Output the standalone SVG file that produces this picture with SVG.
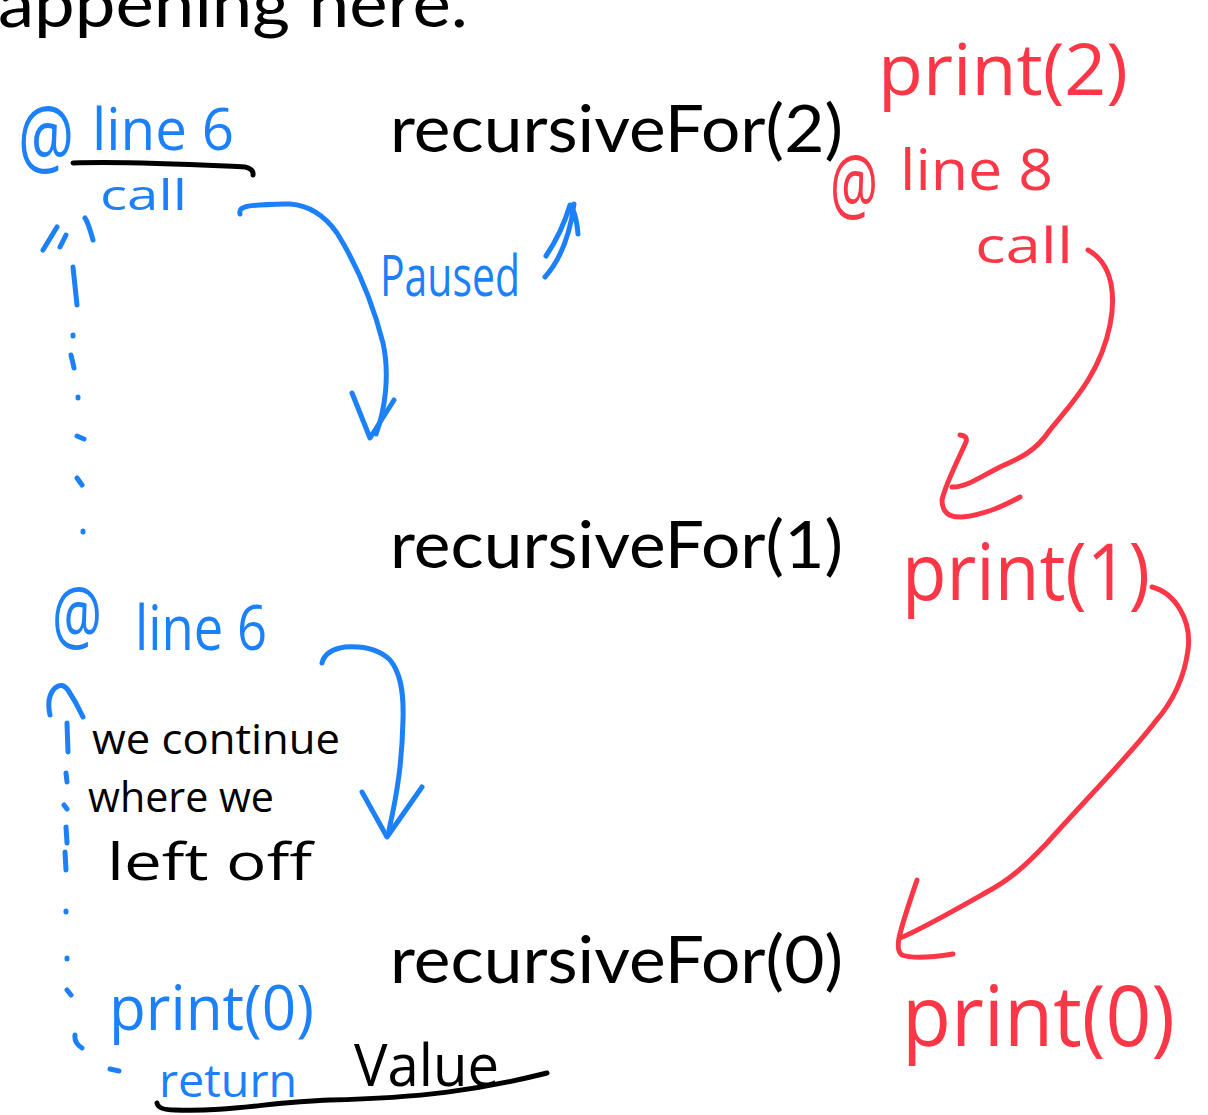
<svg xmlns="http://www.w3.org/2000/svg" width="1208" height="1115" viewBox="0 0 1208 1115">
<style>
.big{font-family:Lato,"Open Sans","Liberation Sans",sans-serif;font-size:66px;fill:#000}
.hand{font-family:"Open Sans","Liberation Sans",sans-serif;font-weight:400}
.blue{fill:#1c80f8}
.red{fill:#fb3747}
.blk{fill:#000}
.sb{fill:none;stroke:#1c80f8;stroke-width:5;stroke-linecap:round;stroke-linejoin:round}
.sr{fill:none;stroke:#fb3747;stroke-width:5;stroke-linecap:round;stroke-linejoin:round}
.sk{fill:none;stroke:#000;stroke-width:5;stroke-linecap:round;stroke-linejoin:round}
</style>
<rect width="1208" height="1115" fill="#fff"/>

<g id="title">
<text class="big" x="-2" y="27" textLength="470" lengthAdjust="spacingAndGlyphs">appening here.</text>
</g>

<g id="node-rf2">
<text class="big" x="390" y="152" textLength="453" lengthAdjust="spacingAndGlyphs">recursiveFor(2)</text>
</g>
<g id="node-rf1">
<text class="big" x="390" y="568" textLength="453" lengthAdjust="spacingAndGlyphs">recursiveFor(1)</text>
</g>
<g id="node-rf0">
<text class="big" x="390" y="983" textLength="453" lengthAdjust="spacingAndGlyphs">recursiveFor(0)</text>
</g>

<g id="note-line6-call">
<text class="hand blue" transform="translate(18,166) scale(1,1.45)" font-size="58" textLength="56" lengthAdjust="spacingAndGlyphs">@</text>
<text class="hand blue" x="92" y="150" font-size="58" textLength="142" lengthAdjust="spacingAndGlyphs">line 6</text>
<path class="sk" d="M73,163 C130,161 200,165 245,167 Q254,169 253,175"/>
<text class="hand blue" x="100" y="210" font-size="42" textLength="87" lengthAdjust="spacingAndGlyphs">call</text>
<path class="sb" d="M43,250 L57,227 M60,247 L66,235 M93,240 Q88,222 85,218"/>
</g>

<g id="note-paused">
<text class="hand blue" x="380" y="296" font-size="56" textLength="140" lengthAdjust="spacingAndGlyphs">Paused</text>
</g>

<g id="note-line8-call">
<text class="hand red" transform="translate(830,213) scale(1,1.5)" font-size="54" textLength="48" lengthAdjust="spacingAndGlyphs">@</text>
<text class="hand red" x="900" y="190" font-size="56" textLength="153" lengthAdjust="spacingAndGlyphs">line 8</text>
<text class="hand red" x="975" y="263" font-size="50" textLength="98" lengthAdjust="spacingAndGlyphs">call</text>
</g>

<g id="note-print2">
<text class="hand red" x="878" y="95" font-size="72" textLength="250" lengthAdjust="spacingAndGlyphs">print(2)</text>
</g>
<g id="note-print1">
<text class="hand red" x="902" y="600" font-size="78" textLength="248" lengthAdjust="spacingAndGlyphs">print(1)</text>
</g>
<g id="note-print0">
<text class="hand red" x="902" y="1046" font-size="84" textLength="273" lengthAdjust="spacingAndGlyphs">print(0)</text>
</g>

<g id="note-line6-b">
<text class="hand blue" transform="translate(52,643) scale(1,1.4)" font-size="56" textLength="50" lengthAdjust="spacingAndGlyphs">@</text>
<text class="hand blue" x="135" y="650" font-size="62" textLength="132" lengthAdjust="spacingAndGlyphs">line 6</text>
</g>

<g id="note-continue">
<text class="hand blk" x="92" y="754" font-size="42" textLength="248" lengthAdjust="spacingAndGlyphs">we continue</text>
<text class="hand blk" x="88" y="812" font-size="42" textLength="186" lengthAdjust="spacingAndGlyphs">where we</text>
<text class="hand blk" x="107" y="880" font-size="52" textLength="205" lengthAdjust="spacingAndGlyphs">left off</text>
</g>

<g id="note-return">
<text class="hand blue" x="109" y="1030" font-size="62" textLength="205" lengthAdjust="spacingAndGlyphs">print(0)</text>
<path class="sb" d="M110,1069 L119,1071"/>
<text class="hand blue" x="159" y="1097" font-size="46" textLength="138" lengthAdjust="spacingAndGlyphs">return</text>
<text class="hand blk" x="354" y="1086" font-size="58" textLength="145" lengthAdjust="spacingAndGlyphs">Value</text>
<path class="sk" d="M157,1103 Q158,1110 175,1110 C230,1112 270,1102 330,1100 C420,1098 480,1090 547,1073"/>
</g>

<g id="connectors">
<!-- blue call arrow -->
<path class="sb" d="M240,214 C238,205 250,205 290,204 Q318,206 337,233 C355,262 372,300 383,343 C390,375 385,410 376,434"/>
<path class="sb" d="M352,393 L370,438 L394,400"/>
<!-- paused up arrow -->
<path class="sb" d="M545,277 C560,260 570,235 574,204 M546,256 Q562,232 570,205 Q576,212 578,234"/>
<!-- blue dotted line top -->
<path class="sb" d="M73,267 L77,305 M73,335 L73,336 M71,355 L74,368 M78,397 L78,398 M77,436 L84,439 M77,478 L82,485 M83,531 L83,532"/>
<!-- blue arrow second -->
<path class="sb" d="M322,663 Q325,650 345,647 Q375,645 390,660 C400,672 404,690 403,720 C402,760 398,790 389,830"/>
<path class="sb" d="M362,792 L387,837 L422,787"/>
<!-- up arrow left -->
<path class="sb" d="M50,715 Q46,697 55,688 Q62,682 68,690 Q76,702 83,717"/>
<path class="sb" d="M67,723 L68,752 M66,773 L67,782 M64,805 L67,809 M66,827 L67,843 M65,852 L66,870"/>
<path class="sb" d="M66,911 L66,912 M67,958 L67,959 M67,990 L71,995 M75,1035 Q74,1043 82,1048"/>
<!-- red arrow 1 -->
<path class="sr" d="M1088,250 C1115,265 1115,300 1110,325 C1100,375 1070,405 1050,430 C1035,452 1020,458 1000,467 C980,477 965,488 952,487"/>
<path class="sr" d="M960,435 Q968,436 966,442 C958,460 945,485 942,500 Q942,518 962,517 C985,515 1005,505 1020,497"/>
<!-- red arrow 2 -->
<path class="sr" d="M1152,587 C1175,593 1192,620 1188,650 C1184,680 1170,705 1155,722 C1130,755 1090,795 1047,843 C1025,866 1010,880 985,893 C955,910 920,930 900,938"/>
<path class="sr" d="M917,880 C912,895 905,915 901,930 Q895,950 902,955 Q915,960 953,954"/>
</g>
</svg>
